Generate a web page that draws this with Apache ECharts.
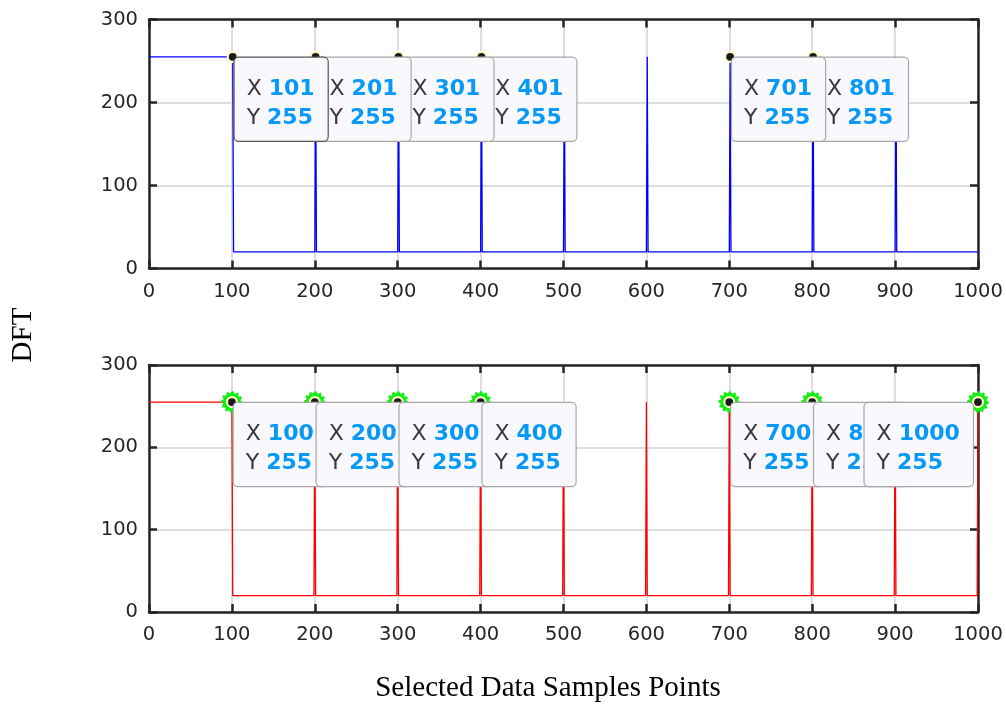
<!DOCTYPE html>
<html>
<head>
<meta charset="utf-8">
<script src="https://cdn.jsdelivr.net/npm/echarts@6/dist/echarts.min.js"></script>
<style>
html,body{margin:0;padding:0;background:#fff;}
#chart{width:1006px;height:704px;}
</style>
</head>
<body>
<div id="chart"></div>
<script>
// ---------- data ----------
var xTicks = [0, 100, 200, 300, 400, 500, 600, 700, 800, 900, 1000];
var yTicks = [0, 100, 200, 300];

var topX = [0, 101, 102, 200, 201, 202, 300, 301, 302, 400, 401, 402, 500, 501, 502, 600, 601, 602, 700, 701, 702, 800, 801, 802, 900, 901, 902, 1000];
var topY = [255, 255, 20, 20, 255, 20, 20, 255, 20, 20, 255, 20, 20, 255, 20, 20, 255, 20, 20, 255, 20, 20, 255, 20, 20, 255, 20, 20];

var botX = [0, 100, 101, 199, 200, 201, 299, 300, 301, 399, 400, 401, 499, 500, 501, 599, 600, 601, 699, 700, 701, 799, 800, 801, 899, 900, 901, 999, 1000];
var botY = [255, 255, 20, 20, 255, 20, 20, 255, 20, 20, 255, 20, 20, 255, 20, 20, 255, 20, 20, 255, 20, 20, 255, 20, 20, 255, 20, 20, 255];

var tipTopX = [101, 201, 301, 401, 701, 801];
var tipTopY = [255, 255, 255, 255, 255, 255];
var tipBotX = [100, 200, 300, 400, 700, 800, 1000];
var tipBotY = [255, 255, 255, 255, 255, 255, 255];

// ---------- styling ----------
var AX = '#262626';
var GRIDC = '#dedede';
var SANS = 'DejaVu Sans';
var SERIF = 'Liberation Serif';

function pairs(xs, ys) { return xs.map(function (x, i) { return [x, ys[i]]; }); }

// gear-shaped marker path (styling only)
function gearPath(teeth, rOut, rIn) {
  var pts = [], n = teeth * 4;
  for (var i = 0; i < n; i++) {
    var a = (i / n) * Math.PI * 2;
    var r = (i % 4 < 2) ? rOut : rIn;
    pts.push((50 + r * Math.cos(a)).toFixed(2) + ',' + (50 + r * Math.sin(a)).toFixed(2));
  }
  return 'path://M' + pts.join('L') + 'Z';
}
var GEAR = gearPath(12, 50, 41);

var labelBase = {
  show: true,
  opacity: 1,
  position: [8, 7],
  align: 'left',
  verticalAlign: 'top',
  backgroundColor: '#f9f9fd',
  borderColor: '#a8a8a8',
  borderWidth: 1.2,
  borderRadius: 4,
  padding: [17, 13, 8, 12],
  fontFamily: SANS,
  fontSize: 22,
  lineHeight: 29,
  color: '#3a3a3a',
  rich: {
    k: { fontFamily: SANS, fontSize: 22, lineHeight: 29, color: '#3a3a3a', align: 'left' },
    v: { fontFamily: SANS, fontSize: 22, lineHeight: 29, color: '#0899f7', fontWeight: 'bold', align: 'left' }
  },
  formatter: function (p) {
    return '{k|X }{v|' + p.value[0] + '}\n{k|Y }{v|' + p.value[1] + '}';
  }
};

function tipItems(xs, ys, opts) {
  return xs.map(function (x, i) {
    var it = { value: [x, ys[i]] };
    if (opts && opts[i]) it.label = opts[i];
    return it;
  });
}

// top: earlier tips drawn on top -> reverse draw order
var topTipItems = tipItems(tipTopX, tipTopY, { 0: { borderColor: '#555555' } }).reverse();
var lastBot = tipBotX.length - 1;
var botOpts = {};
botOpts[lastBot] = { align: 'right', position: [1, 7] };
var botTipItems = tipItems(tipBotX, tipBotY, botOpts);

function xAxisDef(gi, pos, showLabel) {
  return {
    type: 'value', gridIndex: gi, position: pos,
    min: 0, max: 1000, interval: 100,
    axisLine: { show: true, onZero: false, lineStyle: { color: AX, width: 2.5 } },
    axisTick: { show: true, inside: true, length: 8, lineStyle: { color: AX, width: 2.5 } },
    axisLabel: { show: showLabel, color: AX, fontFamily: SANS, fontSize: 19.5, margin: 13,
      formatter: function (v) { return String(v); } },
    splitLine: { show: showLabel, lineStyle: { color: GRIDC, width: 2 } }
  };
}
function yAxisDef(gi, pos, showLabel) {
  return {
    type: 'value', gridIndex: gi, position: pos,
    min: 0, max: 300, interval: 100,
    axisLine: { show: true, onZero: false, lineStyle: { color: AX, width: 2.5 } },
    axisTick: { show: true, inside: true, length: 8, lineStyle: { color: AX, width: 2.5 } },
    axisLabel: { show: showLabel, color: AX, fontFamily: SANS, fontSize: 19.5, margin: 11,
      formatter: function (v) { return String(v); } },
    splitLine: { show: showLabel, lineStyle: { color: GRIDC, width: 2 } }
  };
}

var chart = echarts.init(document.getElementById('chart'), null, { renderer: 'canvas' });
chart.setOption({
  animation: false,
  backgroundColor: '#ffffff',
  grid: [
    { left: 149, top: 19.5, width: 829, height: 249 },
    { left: 149, top: 365, width: 829, height: 247 }
  ],
  xAxis: [xAxisDef(0, 'bottom', true), xAxisDef(0, 'top', false), xAxisDef(1, 'bottom', true), xAxisDef(1, 'top', false)],
  yAxis: [yAxisDef(0, 'left', true), yAxisDef(0, 'right', false), yAxisDef(1, 'left', true), yAxisDef(1, 'right', false)],
  graphic: [
    { type: 'text', x: 23, y: 335, rotation: Math.PI / 2,
      style: { text: 'DFT', fontFamily: SERIF, fontSize: 29, fill: '#000', align: 'center', verticalAlign: 'middle' } },
    { type: 'text', x: 548, y: 688,
      style: { text: 'Selected Data Samples Points', fontFamily: SERIF, fontSize: 29, fill: '#000', align: 'center', verticalAlign: 'middle' } }
  ],
  series: [
    { type: 'line', xAxisIndex: 0, yAxisIndex: 0, data: pairs(topX, topY), showSymbol: false, symbol: 'none',
      lineStyle: { color: '#0000ff', width: 1.3 }, z: 2, silent: true },
    { type: 'line', xAxisIndex: 2, yAxisIndex: 2, data: pairs(botX, botY), showSymbol: false, symbol: 'none',
      lineStyle: { color: '#ff0000', width: 1.3 }, z: 2, silent: true },
    { type: 'scatter', xAxisIndex: 2, yAxisIndex: 2, data: pairs(tipBotX, tipBotY), symbol: GEAR, symbolSize: 22,
      itemStyle: { color: '#11ee11', opacity: 1 }, z: 3, silent: true },
    { type: 'scatter', xAxisIndex: 0, yAxisIndex: 0, data: topTipItems, symbol: 'circle', symbolSize: 10,
      itemStyle: { color: '#1a1a1a', borderColor: '#fff8c8', borderWidth: 2.2, opacity: 1 }, label: labelBase, z: 4, silent: true },
    { type: 'scatter', xAxisIndex: 2, yAxisIndex: 2, data: botTipItems, symbol: 'circle', symbolSize: 10,
      itemStyle: { color: '#1a1a1a', borderColor: '#fff8c8', borderWidth: 2.2, opacity: 1 }, label: labelBase, z: 4, silent: true }
  ]
});
</script>
</body>
</html>
